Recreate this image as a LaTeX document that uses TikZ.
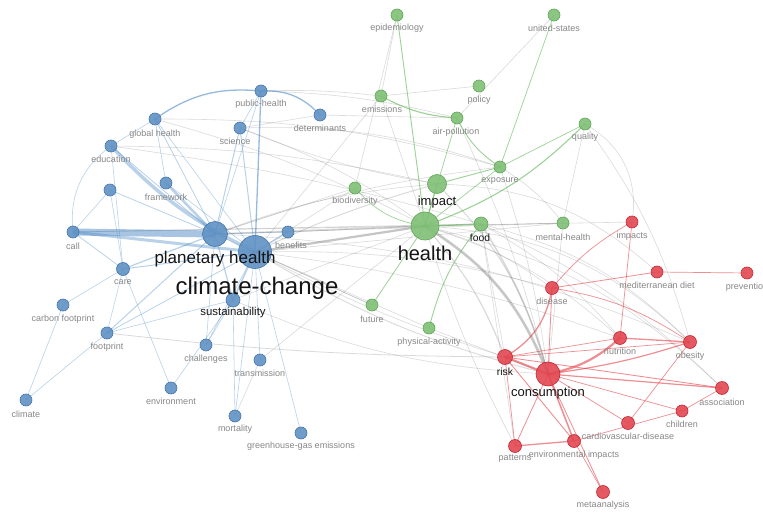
\documentclass[tikz,border=0pt]{standalone}
\usepackage{fontspec}
\setmainfont{Liberation Sans}
\usetikzlibrary{backgrounds}
\definecolor{bfill}{RGB}{96,146,196}
\definecolor{bdraw}{RGB}{70,118,170}
\definecolor{gfill}{RGB}{128,192,118}
\definecolor{gdraw}{RGB}{96,165,88}
\definecolor{rfill}{RGB}{226,72,82}
\definecolor{rdraw}{RGB}{196,40,52}
\definecolor{bline}{RGB}{80,140,200}
\definecolor{gline}{RGB}{90,180,80}
\definecolor{rline}{RGB}{225,50,60}
\definecolor{xline}{RGB}{110,110,110}
\definecolor{labgray}{RGB}{135,135,135}
\tikzset{
  kw/.style={circle,inner sep=0pt,line width=0.6pt,fill opacity=0.9},
  bn/.style={kw,fill=bfill,draw=bdraw},
  gn/.style={kw,fill=gfill,draw=gdraw},
  rn/.style={kw,fill=rfill,draw=rdraw},
  be/.style={draw=bline,draw opacity=0.4,line width=0.6pt},
  ge/.style={draw=gline,draw opacity=0.6,line width=0.7pt},
  re/.style={draw=rline,draw opacity=0.55,line width=0.7pt},
  xe/.style={draw=xline,draw opacity=0.25,line width=0.6pt},
  lab/.style={inner sep=0pt,text=labgray,font=\fontsize{9}{9}\selectfont},
  blab/.style={inner sep=0pt,text=black!92}
}
\begin{document}
\begin{tikzpicture}[x=1pt,y=-1pt]
\useasboundingbox (0,0) rectangle (763,516);
% ---------- nodes ----------
% blue
\node[bn,minimum size=12pt] (pubh) at (261,91) {};
\node[bn,minimum size=12pt] (det) at (320,115) {};
\node[bn,minimum size=12pt] (glob) at (155,119) {};
\node[bn,minimum size=12pt] (sci) at (240,128) {};
\node[bn,minimum size=12pt] (edu) at (111,146) {};
\node[bn,minimum size=12pt] (frame) at (166,183) {};
\node[bn,minimum size=12pt] (unl) at (110,190) {};
\node[bn,minimum size=12pt] (call) at (73,232) {};
\node[bn,minimum size=25pt] (ph) at (215,234) {};
\node[bn,minimum size=33pt] (cc) at (255,252) {};
\node[bn,minimum size=12pt] (ben) at (288,232) {};
\node[bn,minimum size=13pt] (care) at (123,269) {};
\node[bn,minimum size=14pt] (sust) at (233,300) {};
\node[bn,minimum size=12pt] (carb) at (63,305) {};
\node[bn,minimum size=12pt] (foot) at (107,333) {};
\node[bn,minimum size=12pt] (chal) at (206,345) {};
\node[bn,minimum size=12pt] (trans) at (260,360) {};
\node[bn,minimum size=12pt] (env) at (171,388) {};
\node[bn,minimum size=12pt] (clim) at (26,400) {};
\node[bn,minimum size=12pt] (mort) at (235,416) {};
\node[bn,minimum size=12pt] (ghg) at (301,433) {};
% green
\node[gn,minimum size=12pt] (epi) at (397,15) {};
\node[gn,minimum size=12pt] (us) at (554,15) {};
\node[gn,minimum size=12pt] (emis) at (381,96) {};
\node[gn,minimum size=12pt] (pol) at (479,86) {};
\node[gn,minimum size=12pt] (air) at (457,118) {};
\node[gn,minimum size=12pt] (qual) at (585,124) {};
\node[gn,minimum size=12pt] (expo) at (500,167) {};
\node[gn,minimum size=19pt] (imp) at (437,184) {};
\node[gn,minimum size=12pt] (bio) at (355,188) {};
\node[gn,minimum size=28pt] (hlth) at (425,226) {};
\node[gn,minimum size=14pt] (food) at (481,224) {};
\node[gn,minimum size=12pt] (ment) at (563,223) {};
\node[gn,minimum size=12pt] (fut) at (372,305) {};
\node[gn,minimum size=12pt] (phys) at (429,328) {};
% red
\node[rn,minimum size=12pt] (imps) at (632,222) {};
\node[rn,minimum size=12pt] (med) at (657,272) {};
\node[rn,minimum size=12pt] (prev) at (747,273) {};
\node[rn,minimum size=13pt] (dis) at (552,288) {};
\node[rn,minimum size=13pt] (nut) at (620,338) {};
\node[rn,minimum size=13pt] (obe) at (690,342) {};
\node[rn,minimum size=15pt] (risk) at (505,357) {};
\node[rn,minimum size=24pt] (cons) at (548,374) {};
\node[rn,minimum size=13pt] (assoc) at (722,388) {};
\node[rn,minimum size=12pt] (child) at (682,411) {};
\node[rn,minimum size=13pt] (cvd) at (628,423) {};
\node[rn,minimum size=13pt] (patt) at (515,446) {};
\node[rn,minimum size=13pt] (envi) at (574,441) {};
\node[rn,minimum size=13pt] (meta) at (603,492) {};
% ---------- edges ----------
\begin{scope}[on background layer]
\fill[white] (0,0) rectangle (763,516);
% gray inter-cluster edges
\draw[xe,line width=2.2pt,draw opacity=0.4] (cc.center) -- (hlth.center);
\draw[xe,line width=1.6pt] (ph.center) -- (hlth.center);
\draw[xe,line width=1pt] (cc.center) to[bend left=5] (imp.center);
\draw[xe] (ph.center) to[bend left=8] (imp.center);
\draw[xe,line width=2.6pt,draw opacity=0.38] (hlth.center) to[bend left=18] (cons.center);
\draw[xe,line width=1.2pt] (hlth.center) to[bend left=10] (risk.center);
\draw[xe,line width=1.6pt] (food.center) to[bend left=8] (cons.center);
\draw[xe] (food.center) -- (risk.center);
\draw[xe,line width=1pt] (imp.center) to[bend left=15] (cons.center);
\draw[xe,line width=0.9pt] (cc.center) to[bend right=8] (cons.center);
\draw[xe] (cc.center) to[bend right=5] (risk.center);
\draw[xe,line width=0.8pt] (foot.center) to[bend right=3] (risk.center);
\draw[xe,line width=0.9pt] (call.center) -- (hlth.center);
\draw[xe] (call.center) -- (food.center);
\draw[xe] (sci.center) to[bend left=8] (hlth.center);
\draw[xe] (sci.center) to[bend left=10] (expo.center);
\draw[xe] (det.center) -- (air.center);
\draw[xe] (emis.center) -- (pol.center);
\draw[xe] (pubh.center) to[bend left=6] (air.center);
\draw[xe] (pubh.center) to[bend left=4] (emis.center);
\draw[xe] (sci.center) to[bend right=6] (imp.center);
\draw[xe] (glob.center) to[bend left=6] (hlth.center);
\draw[xe] (glob.center) to[bend left=8] (expo.center);
\draw[xe] (edu.center) to[bend left=4] (food.center);
\draw[xe] (edu.center) to[bend left=6] (imp.center);
\draw[xe] (ben.center) -- (hlth.center);
\draw[xe] (sust.center) -- (hlth.center);
\draw[xe] (sust.center) to[bend right=10] (cons.center);
\draw[xe] (fut.center) -- (cc.center);
\draw[xe] (fut.center) -- (ph.center);
\draw[xe] (phys.center) -- (cc.center);
\draw[xe] (ment.center) -- (cc.center);
\draw[xe] (ment.center) -- (ph.center);
\draw[xe] (ment.center) -- (cons.center);
\draw[xe] (ment.center) -- (hlth.center);
\draw[xe] (qual.center) to[bend left=35] (imps.center);
\draw[xe] (qual.center) -- (ment.center);
\draw[xe] (expo.center) to[bend left=5] (cons.center);
\draw[xe] (air.center) to[bend left=5] (cons.center);
\draw[xe] (hlth.center) to[bend left=20] (obe.center);
\draw[xe] (hlth.center) to[bend left=15] (assoc.center);
\draw[xe] (hlth.center) to[bend left=12] (nut.center);
\draw[xe] (hlth.center) to[bend left=10] (dis.center);
\draw[xe] (food.center) to[bend left=15] (obe.center);
\draw[xe] (food.center) to[bend left=10] (nut.center);
\draw[xe] (hlth.center) -- (imps.center);
\draw[xe] (imp.center) to[bend left=20] (med.center);
\draw[xe] (cc.center) to[bend left=8] (dis.center);
\draw[xe] (cc.center) to[bend left=6] (nut.center);
\draw[xe] (ph.center) to[bend left=10] (obe.center);
\draw[xe] (hlth.center) to[bend right=5] (patt.center);
\draw[xe] (food.center) -- (patt.center);
\draw[xe] (phys.center) -- (cons.center);
\draw[xe] (us.center) -- (air.center);
\draw[xe] (epi.center) -- (emis.center);
\draw[xe] (epi.center) -- (bio.center);
\draw[xe] (emis.center) -- (hlth.center);
\draw[xe] (emis.center) -- (cc.center);
\draw[xe] (bio.center) -- (cc.center);
\draw[xe] (bio.center) -- (ph.center);
\draw[xe] (ph.center) to[bend left=6] (expo.center);
\draw[xe] (trans.center) -- (hlth.center);
\draw[xe] (mort.center) -- (trans.center);
\draw[xe] (det.center) -- (sci.center);
\draw[xe] (qual.center) to[bend left=10] (obe.center);
\draw[xe] (food.center) to[bend left=10] (assoc.center);
\draw[xe] (expo.center) to[bend left=10] (ment.center);
% blue edges
\draw[be,line width=7pt,draw opacity=0.5] (call.center) -- (ph.center);
\draw[be,line width=3pt] (call.center) -- (cc.center);
\draw[be,line width=3.5pt] (edu.center) to[bend right=10] (cc.center);
\draw[be,line width=2.5pt] (frame.center) -- (ph.center);
\draw[be,line width=0.8pt] (glob.center) -- (ph.center);
\draw[be] (glob.center) -- (cc.center);
\draw[be,line width=1.3pt,draw opacity=0.6] (pubh.center) to[bend left=25] (det.center);
\draw[be,line width=1.3pt,draw opacity=0.6] (pubh.center) to[bend right=20] (glob.center);
\draw[be,line width=1.3pt,draw opacity=0.6] (pubh.center) -- (cc.center);
\draw[be] (pubh.center) -- (ph.center);
\draw[be] (pubh.center) -- (sci.center);
\draw[be,line width=1pt] (sci.center) -- (ph.center);
\draw[be,line width=1pt] (sci.center) -- (cc.center);
\draw[be] (edu.center) to[bend right=30] (call.center);
\draw[be] (edu.center) -- (care.center);
\draw[be,line width=0.8pt] (edu.center) -- (ph.center);
\draw[be] (edu.center) -- (glob.center);
\draw[be,line width=0.8pt] (unl.center) -- (ph.center);
\draw[be] (unl.center) -- (call.center);
\draw[be] (unl.center) -- (care.center);
\draw[be,line width=0.8pt] (call.center) -- (care.center);
\draw[be,line width=1.2pt] (care.center) -- (ph.center);
\draw[be,line width=1pt] (care.center) -- (cc.center);
\draw[be] (care.center) -- (foot.center);
\draw[be] (carb.center) -- (care.center);
\draw[be] (carb.center) -- (clim.center);
\draw[be] (clim.center) -- (foot.center);
\draw[be,line width=1pt] (foot.center) -- (ph.center);
\draw[be,line width=0.8pt] (foot.center) -- (cc.center);
\draw[be] (foot.center) -- (sust.center);
\draw[be] (chal.center) -- (cc.center);
\draw[be] (chal.center) -- (sust.center);
\draw[be] (chal.center) -- (ph.center);
\draw[be] (env.center) -- (sust.center);
\draw[be] (env.center) -- (care.center);
\draw[be] (trans.center) -- (cc.center);
\draw[be] (mort.center) -- (cc.center);
\draw[be] (mort.center) -- (sust.center);
\draw[be] (ghg.center) -- (cc.center);
\draw[be] (ben.center) -- (ph.center);
\draw[be,line width=1.2pt] (ben.center) -- (cc.center);
\draw[be,line width=1.5pt] (sust.center) -- (cc.center);
\draw[be,line width=1.2pt] (sust.center) -- (ph.center);
\draw[be] (glob.center) -- (frame.center);
\draw[be] (frame.center) -- (cc.center);
% green edges
\draw[ge,line width=0.9pt] (epi.center) -- (hlth.center);
\draw[ge] (us.center) -- (expo.center);
\draw[ge,line width=1.1pt] (emis.center) to[bend right=12] (air.center);
\draw[ge,line width=0.9pt] (air.center) to[bend right=15] (expo.center);
\draw[ge] (qual.center) -- (expo.center);
\draw[ge,line width=1.1pt] (qual.center) to[bend left=12] (hlth.center);
\draw[ge,line width=0.9pt] (expo.center) -- (imp.center);
\draw[ge] (expo.center) -- (hlth.center);
\draw[ge,line width=1pt] (imp.center) -- (hlth.center);
\draw[ge] (bio.center) to[bend right=20] (hlth.center);
\draw[ge,line width=1.3pt] (hlth.center) -- (food.center);
\draw[ge,line width=0.8pt] (hlth.center) -- (fut.center);
\draw[ge,line width=0.9pt] (food.center) to[bend right=12] (phys.center);
\draw[ge] (air.center) -- (hlth.center);
% red edges
\draw[re,line width=1.3pt] (risk.center) to[bend right=25] (dis.center);
\draw[re,line width=2.2pt] (risk.center) -- (cons.center);
\draw[re,line width=2.2pt] (cons.center) to[bend right=15] (nut.center);
\draw[re,line width=1.2pt] (cons.center) to[bend right=5] (obe.center);
\draw[re,line width=1.2pt] (cons.center) -- (assoc.center);
\draw[re,line width=0.8pt] (cons.center) -- (dis.center);
\draw[re,line width=0.8pt] (cons.center) -- (patt.center);
\draw[re,line width=1.5pt] (cons.center) -- (envi.center);
\draw[re,line width=0.8pt] (cons.center) -- (meta.center);
\draw[re] (cons.center) -- (child.center);
\draw[re] (cons.center) -- (cvd.center);
\draw[re,line width=0.9pt] (risk.center) -- (assoc.center);
\draw[re] (risk.center) -- (nut.center);
\draw[re] (risk.center) -- (patt.center);
\draw[re,line width=0.9pt] (risk.center) -- (envi.center);
\draw[re,line width=1.3pt] (nut.center) -- (obe.center);
\draw[re] (nut.center) -- (imps.center);
\draw[re,line width=0.8pt] (dis.center) -- (med.center);
\draw[re] (med.center) -- (prev.center);
\draw[re] (dis.center) to[bend left=10] (imps.center);
\draw[re] (dis.center) to[bend left=12] (obe.center);
\draw[re,line width=1.3pt] (patt.center) -- (envi.center);
\draw[re] (envi.center) -- (child.center);
\draw[re] (cvd.center) -- (obe.center);
\draw[re] (child.center) -- (assoc.center);
\draw[re] (envi.center) -- (meta.center);
\draw[re] (risk.center) -- (obe.center);
\end{scope}
% ---------- labels ----------
\node[lab] (l-pubh) at (261,104) {public-health};
\node[lab] (l-det) at (320,128) {determinants};
\node[lab] (l-glob) at (155,134) {global health};
\node[lab] (l-sci) at (235,141) {science};
\node[lab] (l-edu) at (111,159) {education};
\node[lab] (l-frame) at (166,197) {framework};
\node[lab] (l-call) at (73,246) {call};
\node[lab] (l-ben) at (291,245) {benefits};
\node[lab] (l-care) at (123,282) {care};
\node[lab] (l-carb) at (63,319) {carbon footprint};
\node[lab] (l-foot) at (107,347) {footprint};
\node[lab] (l-chal) at (206,359) {challenges};
\node[lab] (l-trans) at (260,373) {transmission};
\node[lab] (l-env) at (171,401) {environment};
\node[lab] (l-clim) at (26,414) {climate};
\node[lab] (l-mort) at (235,429) {mortality};
\node[lab] (l-ghg) at (301,446) {greenhouse-gas emissions};
\node[blab,font=\fontsize{17}{17}\selectfont] (l-ph) at (215,259) {planetary health};
\node[blab,font=\fontsize{24}{24}\selectfont] (l-cc) at (257,288) {climate-change};
\node[blab,font=\fontsize{11.4}{11.4}\selectfont] (l-sust) at (233,313) {sustainability};
\node[lab] (l-epi) at (397,28) {epidemiology};
\node[lab] (l-us) at (554,28) {united-states};
\node[lab] (l-emis) at (382,109) {emissions};
\node[lab] (l-pol) at (479,100) {policy};
\node[lab] (l-air) at (456,132) {air-pollution};
\node[lab] (l-qual) at (585,137) {quality};
\node[lab] (l-expo) at (500,181) {exposure};
\node[blab,font=\fontsize{13}{13}\selectfont] (l-imp) at (437,202) {impact};
\node[lab] (l-bio) at (355,201) {biodiversity};
\node[blab,font=\fontsize{20}{20}\selectfont] (l-hlth) at (425,253) {health};
\node[blab,font=\fontsize{10.3}{10.3}\selectfont] (l-food) at (480,238) {food};
\node[lab] (l-ment) at (563,237) {mental-health};
\node[lab] (l-fut) at (372,319) {future};
\node[lab] (l-phys) at (429,342) {physical-activity};
\node[lab] (l-imps) at (632,236) {impacts};
\node[lab] (l-med) at (657,285) {mediterranean diet};
\node[lab] (l-prev) at (747,287) {prevention};
\node[lab] (l-dis) at (552,301) {disease};
\node[lab] (l-nut) at (620,351) {nutrition};
\node[lab] (l-obe) at (690,356) {obesity};
\node[blab,font=\fontsize{10.3}{10.3}\selectfont] (l-risk) at (505,372) {risk};
\node[blab,font=\fontsize{13}{13}\selectfont] (l-cons) at (548,393) {consumption};
\node[lab] (l-assoc) at (722,402) {association};
\node[lab] (l-child) at (682,424) {children};
\node[lab] (l-cvd) at (628,436) {cardiovascular-disease};
\node[lab] (l-patt) at (515,459) {patterns};
\node[lab] (l-envi) at (574,455) {environmental impacts};
\node[lab] (l-meta) at (603,505) {metaanalysis};
\end{tikzpicture}
\end{document}
